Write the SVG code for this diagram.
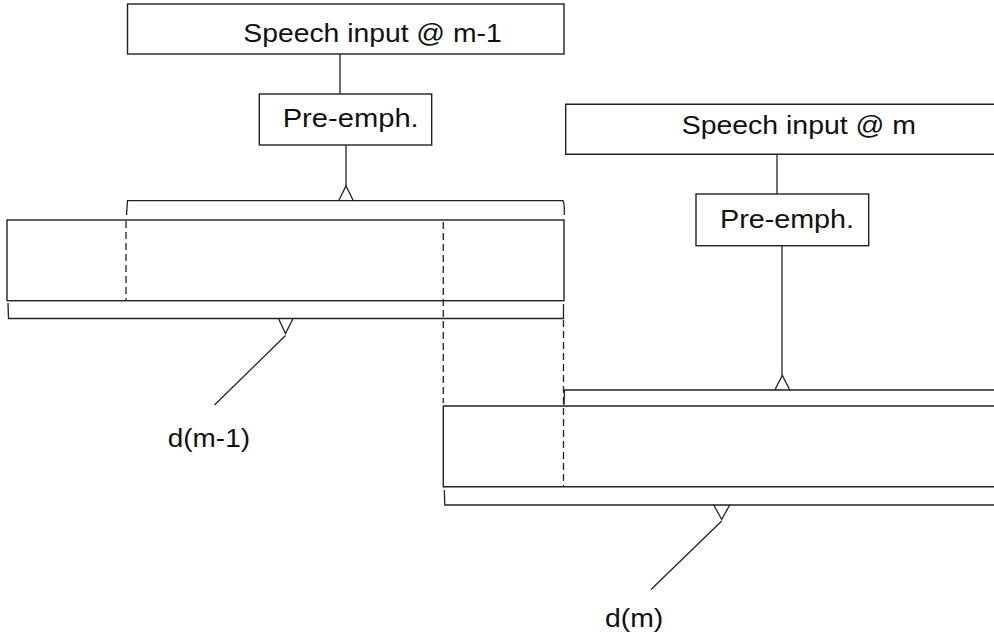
<svg xmlns="http://www.w3.org/2000/svg" width="994" height="637" viewBox="0 0 994 637">
  <style>
    .box { fill: none; stroke: #222; stroke-width: 1.4; }
    .ln { fill: none; stroke: #222; stroke-width: 1.3; }
    .dash { fill: none; stroke: #222; stroke-width: 1.3; stroke-dasharray: 7 4; }
    .lbl { font-family: "Liberation Sans", Arial, sans-serif; font-size: 26.5px; fill: #111; }
  </style>
  <rect width="994" height="637" fill="#fff"/>

  <!-- frame m-1 -->
  <g id="speech-m1">
    <rect class="box" x="127.5" y="4" width="436.5" height="50"/>
    <text class="lbl" x="243.3" y="42" textLength="258.4" lengthAdjust="spacingAndGlyphs">Speech input @ m-1</text>
  </g>
  <g id="preemph-m1">
    <rect class="box" x="259.3" y="94" width="172.4" height="51"/>
    <text class="lbl" x="282.7" y="127" textLength="136" lengthAdjust="spacingAndGlyphs">Pre-emph.</text>
  </g>
  <g id="window-m1">
    <rect class="box" x="7" y="220" width="557" height="80.7"/>
  </g>
  <g id="label-dm1">
    <text class="lbl" x="167.7" y="447" textLength="82.3" lengthAdjust="spacingAndGlyphs">d(m-1)</text>
  </g>

  <!-- frame m -->
  <g id="speech-m">
    <path class="box" d="M994,104.3 H565.7 V154.3 H994"/>
    <text class="lbl" x="681.7" y="133.5" textLength="234.3" lengthAdjust="spacingAndGlyphs">Speech input @ m</text>
  </g>
  <g id="preemph-m">
    <rect class="box" x="696" y="194" width="172.7" height="51.7"/>
    <text class="lbl" x="720" y="227.5" textLength="134" lengthAdjust="spacingAndGlyphs">Pre-emph.</text>
  </g>
  <g id="window-m">
    <path class="box" d="M994,406 H443.3 V486.7 H994"/>
  </g>
  <g id="label-dm">
    <text class="lbl" x="605" y="627" textLength="58.3" lengthAdjust="spacingAndGlyphs">d(m)</text>
  </g>

  <g id="connectors">
    <!-- m-1 chain -->
    <path class="ln" d="M340,54 V94"/>
    <path class="ln" d="M346,145 V186"/>
    <path class="ln" d="M338.5,201 L346,186 L353.5,201"/>
    <path class="ln" d="M126.5,215 L127.5,200.7 H563 Q564.5,203 564.3,215"/>
    <path class="ln" d="M8,303 L8.5,318.5 H563.5 V304"/>
    <path class="ln" d="M278.5,318.5 L285.5,333.5 L293,318.5"/>
    <path class="ln" d="M285.5,335.5 L214.5,405"/>

    <!-- m chain -->
    <path class="ln" d="M777,154.3 V194"/>
    <path class="ln" d="M782,245.7 V375.5"/>
    <path class="ln" d="M774.8,390 L782.3,375.5 L789.8,390"/>
    <path class="ln" d="M564,405 L564.5,390 H994"/>
    <path class="ln" d="M444.3,490 L444.8,505 H994"/>
    <path class="ln" d="M713.5,504.5 L721.7,519.5 L730,504.5"/>
    <path class="ln" d="M721.7,521 L651,589.5"/>

    <!-- frame boundaries -->
    <path class="dash" d="M126,221 V300.7"/>
    <path class="dash" d="M443.3,222 V403"/>
    <path class="dash" d="M563.5,320 V486"/>
  </g>
</svg>
